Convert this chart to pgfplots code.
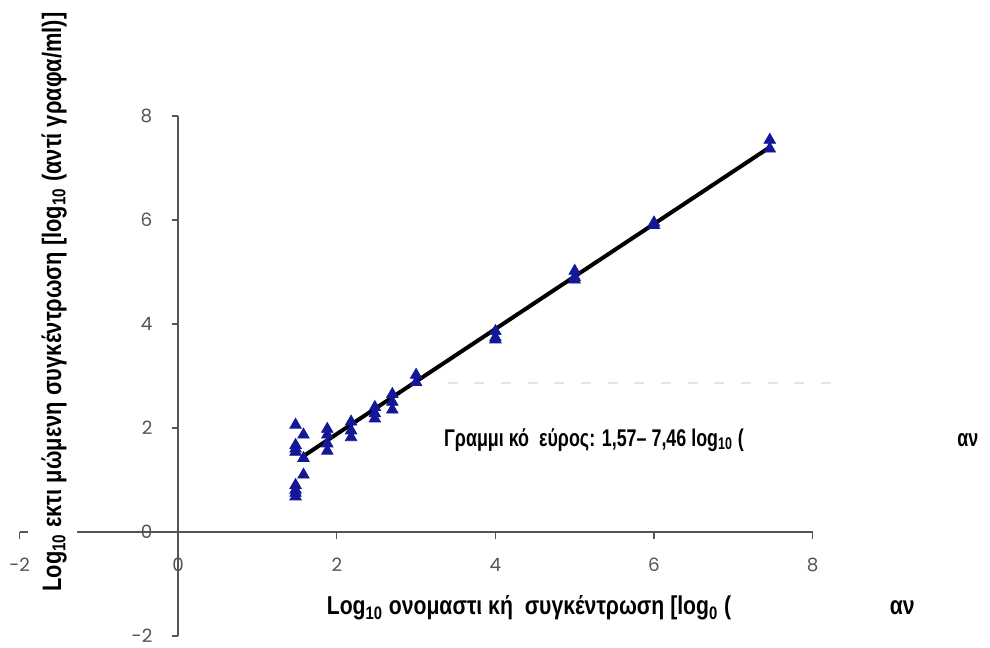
\documentclass[border=0pt]{standalone}
\usepackage{pgfplots}
\pgfplotsset{compat=1.18}
\usepackage{fontspec}
\setmainfont{Liberation Sans}
\newfontfamily\lblfont[FakeStretch=0.82]{Liberation Sans}
\newfontfamily\annfont[FakeStretch=0.74]{Liberation Sans}
\newfontfamily\tickfont{Poppins}
\definecolor{ptblue}{RGB}{20,24,150}
\definecolor{axgray}{RGB}{85,85,85}
\begin{document}
\begin{tikzpicture}
\useasboundingbox (-11.76pt,-6.6pt) rectangle (582.24pt,381.6pt);
\begin{axis}[
  at={(0,0)}, anchor=south west,
  scale only axis, width=475.8pt, height=312pt,
  xmin=-2, xmax=8, ymin=-2, ymax=8,
  axis lines=middle,
  axis line style={axgray, line width=0.9pt, -},
  xtick={-2,0,2,4,6,8}, ytick={-2,0,2,4,6,8},
  xticklabels={-2,0,2,4,6,8}, yticklabels={-2,0,2,4,6,8},
  hide obscured x ticks=false, hide obscured y ticks=false,
  tick style={axgray, line width=0.8pt},
  major tick length=4pt, tick align=outside,
  xticklabel style={font=\tickfont\fontsize{11}{13}\selectfont, text=axgray, yshift=-8pt},
  yticklabel style={font=\tickfont\fontsize{11}{13}\selectfont, text=axgray, xshift=-8pt},
  clip=false,
]
\addplot[only marks, mark=triangle*, mark size=4pt, color=ptblue] coordinates {
(1.48,2.06) (1.48,1.67) (1.48,1.60) (1.48,1.54) (1.48,0.90) (1.48,0.81) (1.48,0.75) (1.48,0.68)
(1.58,1.87) (1.58,1.42) (1.58,1.10)
(1.88,1.98) (1.88,1.87) (1.88,1.70) (1.88,1.56)
(2.18,2.12) (2.18,1.95) (2.18,1.82)
(2.48,2.40) (2.48,2.28) (2.48,2.18)
(2.70,2.65) (2.70,2.50) (2.70,2.35)
(3.00,3.02) (3.00,2.88)
(4.00,3.86) (4.00,3.74) (4.00,3.70)
(5.00,5.02) (5.00,4.90) (5.00,4.85)
(6.00,5.95) (6.00,5.90)
(7.46,7.54) (7.46,7.37)
};
\addplot[black, line width=2.4pt] coordinates {(1.57,1.45) (7.46,7.40)};
\fill[white] (axis cs:-1.9,-0.1) rectangle (axis cs:-1.27,0.1);
\draw[gray!20, line width=1pt, dash pattern=on 6pt off 10pt] (axis cs:3.4,2.87) -- (axis cs:8.4,2.87);
\node[anchor=west, inner sep=0pt, font=\annfont\bfseries\fontsize{14.5}{16}\selectfont] at (axis cs:3.35,1.77) {Γραμμι κό\ \ εύρος: 1,57– 7,46 log\textsubscript{10} (};
\node[anchor=west, inner sep=0pt, font=\annfont\bfseries\fontsize{14.5}{16}\selectfont] at (axis cs:9.82,1.77) {αν};
\node[anchor=west, inner sep=0pt, font=\lblfont\bfseries\fontsize{15.5}{17}\selectfont] at (axis cs:1.87,-1.46) {Log\textsubscript{10} ονομαστι κή\ \ συγκέντρωση [log\textsubscript{0} (};
\node[anchor=west, inner sep=0pt, font=\lblfont\bfseries\fontsize{15.5}{17}\selectfont] at (axis cs:8.97,-1.46) {αν};
\node[rotate=90, inner sep=0pt, font=\lblfont\bfseries\fontsize{16}{18}\selectfont] at (axis cs:-1.564,4.42) {Log\textsubscript{10} εκτι μώμενη συγκέντρωση [log\textsubscript{10} (αντί γραφα/ml)]};
\end{axis}
\end{tikzpicture}
\end{document}
